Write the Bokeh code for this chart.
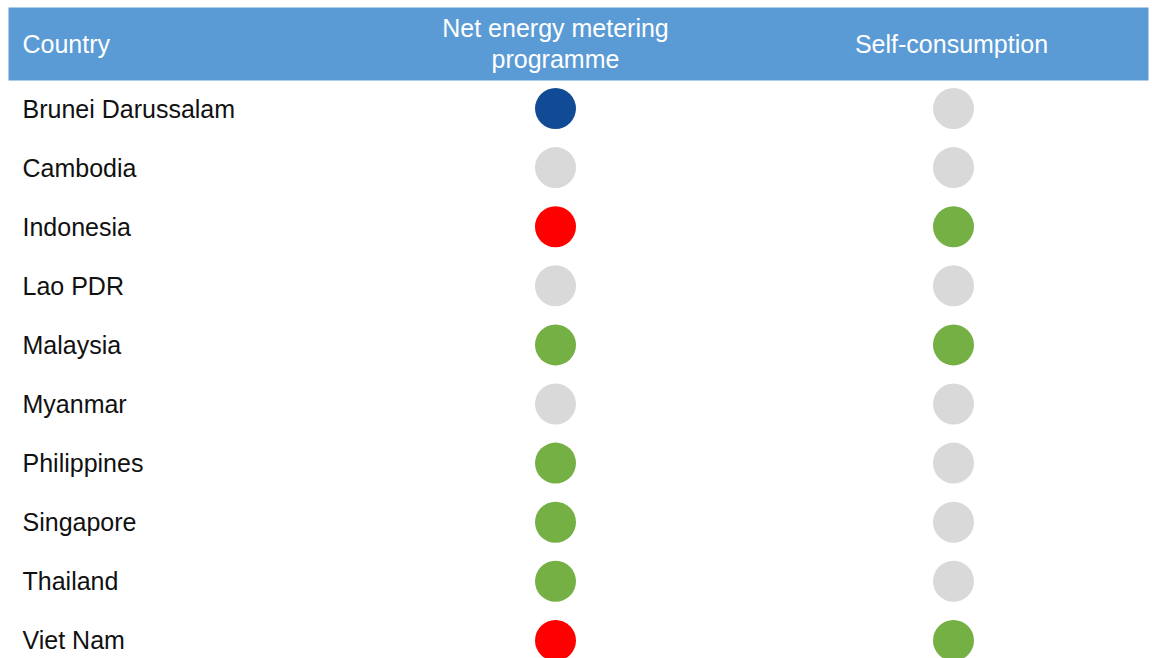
from bokeh.plotting import figure
from bokeh.models import Range1d, ColumnDataSource
from bokeh.core.properties import value
from bokeh.embed import file_html
from bokeh.resources import INLINE

# Policy status per country
countries = ["Brunei Darussalam", "Cambodia", "Indonesia", "Lao PDR", "Malaysia",
             "Myanmar", "Philippines", "Singapore", "Thailand", "Viet Nam"]
net_metering = ["special", "none", "stopped", "none", "active",
                "none", "active", "active", "active", "stopped"]
self_consumption = ["none", "none", "active", "none", "active",
                    "none", "none", "none", "none", "active"]
column_titles = ["Country", "Net energy metering\nprogramme", "Self-consumption"]

status_colors = {"active": "#74B043", "none": "#D9D9D9",
                 "stopped": "#FF0000", "special": "#114B95"}

W, H = 1152, 658
ROW_PX = 59.1          # row pitch in pixels
FIRST_ROW_PX = 108     # centre of first row from top
to_row = lambda px: (px - FIRST_ROW_PX) / ROW_PX

p = figure(width=W, height=H, output_backend="svg", toolbar_location=None,
           x_range=Range1d(0, W), y_range=Range1d(to_row(H), to_row(0)),
           min_border=0)
p.axis.visible = False
p.grid.visible = False
p.outline_line_color = None
p.background_fill_color = "white"
p.border_fill_color = "white"

FONT = value("Liberation Sans")
FS = "25px"

# header band
p.quad(left=8, right=1148, top=to_row(7), bottom=to_row(80),
       fill_color="#5B9BD5", line_color=None)

col_x = [22, 555, 953]
p.text(x=[col_x[0]], y=[to_row(43)], text=[column_titles[0]],
       text_font=FONT, text_font_size=FS, text_color="white",
       text_align="left", text_baseline="middle")
p.text(x=[col_x[1]], y=[to_row(43)], text=[column_titles[1]],
       text_font=FONT, text_font_size=FS, text_color="white",
       text_align="center", text_baseline="middle", text_line_height=1.12)
p.text(x=[col_x[2] - 2], y=[to_row(43)], text=[column_titles[2]],
       text_font=FONT, text_font_size=FS, text_color="white",
       text_align="center", text_baseline="middle")

rows = list(range(len(countries)))
src = ColumnDataSource(dict(
    row=rows, country=countries,
    c1=[status_colors[s] for s in net_metering],
    c2=[status_colors[s] for s in self_consumption],
))

p.text(x=col_x[0], y="row", text="country", source=src,
       text_font=FONT, text_font_size=FS, text_color="#111111",
       text_align="left", text_baseline="middle")
p.scatter(x=col_x[1], y="row", source=src, marker="circle", size=41,
          fill_color="c1", line_color=None)
p.scatter(x=col_x[2], y="row", source=src, marker="circle", size=41,
          fill_color="c2", line_color=None)

open("out.html", "w").write(file_html(p, INLINE))
